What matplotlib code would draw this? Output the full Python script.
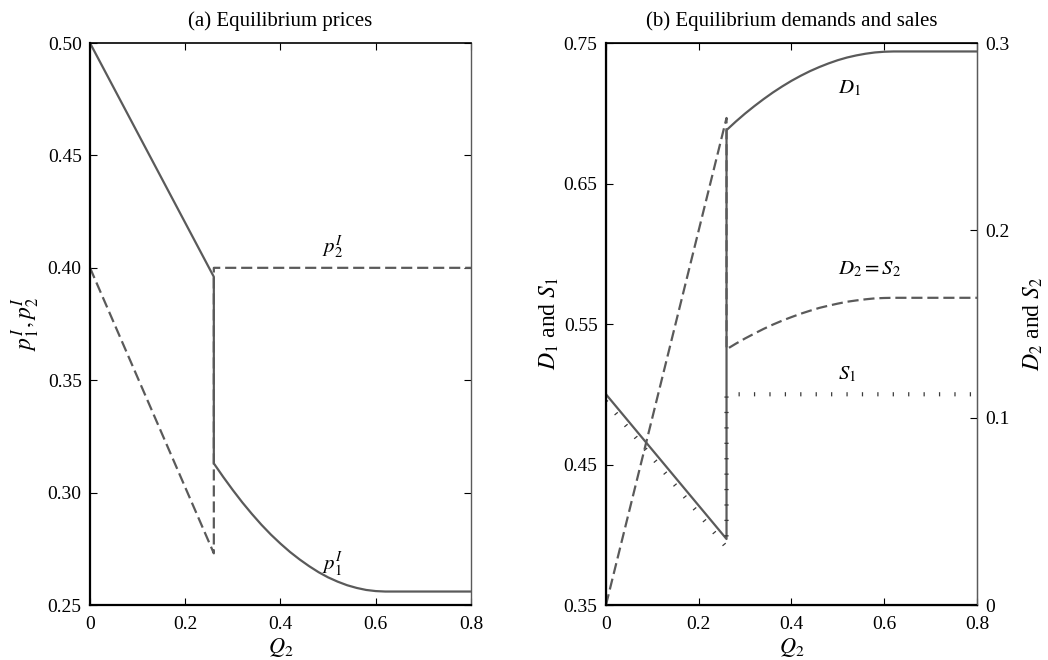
import matplotlib
matplotlib.use("Agg")
import matplotlib.pyplot as plt
from matplotlib.ticker import FixedLocator, FixedFormatter

# (a) prices, Q2 on x
q_p1 = [0, 0.26, 0.26, 0.28, 0.30, 0.32, 0.34, 0.36, 0.38, 0.40, 0.42, 0.44, 0.46,
        0.48, 0.50, 0.52, 0.54, 0.56, 0.58, 0.60, 0.62, 0.80]
p1 = [0.500, 0.396, 0.313, 0.3069, 0.3011, 0.2956, 0.2905, 0.2857, 0.2813, 0.2773,
      0.2736, 0.2703, 0.2673, 0.2646, 0.2623, 0.2604, 0.2588, 0.2576, 0.2567, 0.2562,
      0.256, 0.256]
q_p2 = [0, 0.26, 0.26, 0.80]
p2 = [0.400, 0.273, 0.400, 0.400]

# (b) demands and sales
q_d1 = [0, 0.26, 0.26, 0.28, 0.30, 0.32, 0.34, 0.36, 0.38, 0.40, 0.42, 0.44, 0.46,
        0.48, 0.50, 0.52, 0.54, 0.56, 0.58, 0.60, 0.62, 0.80]
d1 = [0.500, 0.397, 0.688, 0.6941, 0.6998, 0.7051, 0.7101, 0.7148, 0.7191, 0.7231,
      0.7267, 0.7300, 0.7329, 0.7355, 0.7378, 0.7397, 0.7412, 0.7424, 0.7433, 0.7438,
      0.744, 0.744]
q_s1 = [0, 0.26, 0.26, 0.80]
s1 = [0.495, 0.391, 0.500, 0.500]
q_d2 = q_d1
d2 = [0.0, 0.26, 0.1365, 0.1395, 0.1423, 0.1449, 0.1474, 0.1497, 0.1518, 0.1537,
      0.1555, 0.1571, 0.1586, 0.1598, 0.1609, 0.1619, 0.1626, 0.1632, 0.1637, 0.1639,
      0.164, 0.164]

x_ticks = [0, 0.2, 0.4, 0.6, 0.8]
x_labels = ["0", "0.2", "0.4", "0.6", "0.8"]
pa_ticks = [0.25, 0.30, 0.35, 0.40, 0.45, 0.50]
b1_ticks = [0.35, 0.45, 0.55, 0.65, 0.75]
b2_ticks = [0, 0.1, 0.2, 0.3]
b2_labels = ["0", "0.1", "0.2", "0.3"]

plt.rcParams['font.family'] = ['Liberation Serif', 'DejaVu Serif']
plt.rcParams['mathtext.fontset'] = 'stix'
plt.rcParams['font.size'] = 14

col = '#5a5a5a'
lw = 1.6
dash = (0, (5.0, 2.2))
dots = (0, (0.3, 3.4))

fig = plt.figure(figsize=(10.48, 6.6), dpi=100)
axa = fig.add_axes([0.0859, 0.0833, 0.3635, 0.8515])
axb = fig.add_axes([0.5782, 0.0833, 0.354, 0.8515])


def style(ax):
    ax.tick_params(direction='in', top=True, right=True, length=5, labelsize=14)
    ax.tick_params(axis='y', pad=6)
    ax.tick_params(axis='x', pad=8)
    for s in ['left', 'bottom']:
        ax.spines[s].set_linewidth(1.6)
    ax.spines['top'].set_linewidth(1.2)
    ax.spines['right'].set_linewidth(1.0)
    ax.spines['right'].set_color(col)
    ax.set_xlim(0, 0.8)
    ax.xaxis.set_major_locator(FixedLocator(x_ticks))
    ax.xaxis.set_major_formatter(FixedFormatter(x_labels))
    ax.set_xlabel('$Q_2$', fontsize=16, labelpad=2)


# panel (a)
axa.plot(q_p1, p1, color=col, lw=lw)
axa.plot(q_p2, p2, color=col, lw=lw, linestyle=dash)
axa.set_ylim(0.25, 0.5)
axa.set_yticks(pa_ticks)
axa.set_yticklabels(["%.2f" % v for v in pa_ticks])
style(axa)
axa.set_ylabel('$p_1^I, p_2^I$', fontsize=17, labelpad=4)
axa.set_title('(a) Equilibrium prices', fontsize=15, pad=12)
axa.text(0.51, 0.409, '$p_2^I$', fontsize=15, ha='center', va='center')
axa.text(0.51, 0.268, '$p_1^I$', fontsize=15, ha='center', va='center')

# panel (b)
axb.plot(q_d1, d1, color=col, lw=lw)
axb.plot(q_s1, s1, color='#3a3a3a', lw=3.0, linestyle=dots, dash_capstyle='butt')
axb.set_ylim(0.35, 0.75)
axb.set_yticks(b1_ticks)
axb.set_yticklabels(["%.2f" % v for v in b1_ticks])
style(axb)
axb.set_ylabel('$D_1$ and $S_1$', fontsize=17, labelpad=2)
axb.set_title('(b) Equilibrium demands and sales', fontsize=15, pad=12)

axb2 = axb.twinx()
axb2.plot(q_d2, d2, color=col, lw=lw, linestyle=dash)
axb2.set_ylim(0, 0.3)
axb2.yaxis.set_major_locator(FixedLocator(b2_ticks))
axb2.yaxis.set_major_formatter(FixedFormatter(b2_labels))
axb2.tick_params(direction='in', length=5, labelsize=14, pad=6)
axb2.spines['right'].set_color(col)
axb2.set_ylabel('$D_2$ and $S_2$', fontsize=17, rotation=90, labelpad=9)

axb.text(0.50, 0.718, '$D_1$', fontsize=15, ha='left', va='center')
axb.text(0.50, 0.589, '$D_2 = S_2$', fontsize=15, ha='left', va='center')
axb.text(0.50, 0.514, '$S_1$', fontsize=15, ha='left', va='center')

fig.savefig('out.png', dpi=100)
